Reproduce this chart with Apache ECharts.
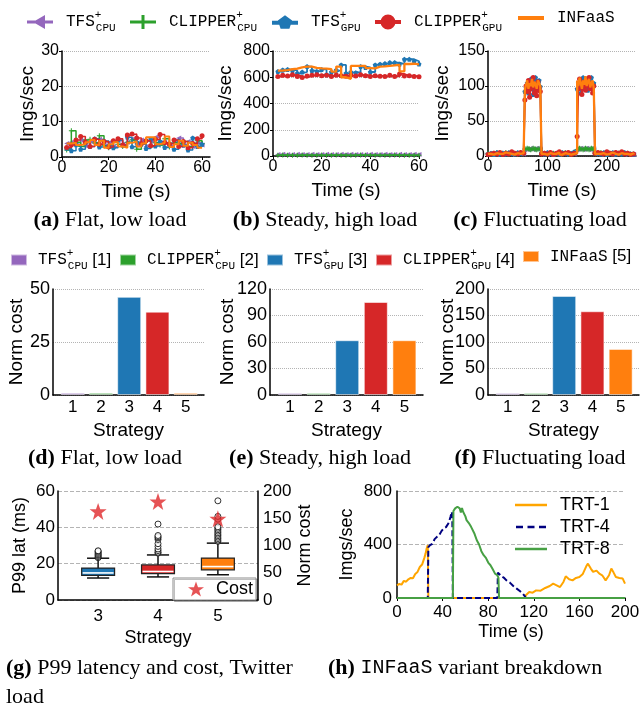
<!DOCTYPE html>
<html><head><meta charset="utf-8">
<script src="https://cdn.jsdelivr.net/npm/echarts@6/dist/echarts.min.js"></script>
<style>html,body{margin:0;padding:0;background:#fff}#c{width:642px;height:706px}</style>
</head><body><div id="c"></div>
<script>
// ---------------- DATA ----------------
const strategyNames = ['TFS_CPU', 'CLIPPER_CPU', 'TFS_GPU', 'CLIPPER_GPU', 'INFaaS'];
const costNames = ['TFS_CPU [1]', 'CLIPPER_CPU [2]', 'TFS_GPU [3]', 'CLIPPER_GPU [4]', 'INFaaS [5]'];
const strategyIds = [1, 2, 3, 4, 5];

// (a) flat, low load
const flatTime = [2,4,6,8,10,12,14,16,18,20,22,24,26,28,30,32,34,36,38,40,42,44,46,48,50,52,54,56,58,60];
const flatTFSCPU = [3.8,4.2,3.6,4.8,3.2,4.4,3.8,5.0,3.4,4.0,3.0,4.6,3.6,4.2,5.0,3.4,4.8,3.0,4.4,5.6,3.8,4.2,3.2,4.6,5.4,3.6,4.4,3.0,4.0,3.4];
const flatCLIPCPU = [2.0,7.4,4.2,3.0,4.8,5.0,4.0,6.0,3.2,2.6,4.4,3.6,3.0,4.2,4.8,2.2,3.8,4.6,3.0,4.0,3.4,5.2,2.8,4.0,3.6,4.4,3.0,3.8,4.6,3.8];
const flatTFSGPU = [2.5,1.8,3.5,2.2,4.0,3.0,5.2,2.8,4.5,3.2,2.6,4.8,3.4,5.6,2.9,4.2,3.6,2.4,5.0,3.1,4.4,2.7,3.8,2.2,4.6,3.3,2.0,5.4,3.0,3.6];
const flatCLIPGPU = [2.7,3.4,4.8,5.8,4.2,3.0,5.0,3.6,4.4,2.8,4.6,5.2,3.4,6.2,6.5,5.4,3.8,4.6,3.2,5.0,6.4,4.0,3.6,4.8,3.0,4.4,2.6,3.8,5.2,6.0];
const flatINFaaS = [3.8,4.0,3.4,3.6,4.2,4.8,3.4,4.6,2.6,3.6,4.2,3.0,2.6,4.0,4.4,3.0,3.8,5.6,5.6,3.6,4.0,5.8,2.8,3.6,4.6,3.2,4.0,3.4,2.6,2.4];

// (b) steady, high load
const steadyTime = [2,4,6,8,10,12,14,16,18,20,22,24,26,28,30,32,34,36,38,40,42,44,46,48,50,52,54,56,58,60];
const steadyTFSCPU = [12,13,11,12,14,12,11,13,12,12,13,11,12,14,12,13,12,11,12,13,12,12,14,12,11,13,12,12,13,12];
const steadyCLIPCPU = [6,7,6,5,6,7,6,6,5,7,6,6,7,6,5,6,6,7,6,6,5,7,6,6,7,6,6,5,6,6];
const steadyTFSGPU = [643,656,660,650,630,640,681,650,643,660,620,640,655,694,630,640,635,681,675,640,694,700,704,712,712,700,737,737,722,701];
const steadyCLIPGPU = [605,615,610,620,605,598,610,615,620,612,615,605,618,612,608,615,610,620,612,605,612,608,606,615,605,625,610,612,605,603];
const steadyINFaaS = [650,655,661,665,675,681,681,672,668,665,662,643,681,600,588,686,686,686,670,668,681,683,686,690,694,645,701,703,698,694];

// (c) fluctuating load
const fluctTime = [0,5,10,15,20,25,30,35,40,45,50,55,60,62,64,66,68,70,72,74,76,78,80,82,84,86,88,90,95,100,105,110,115,120,125,130,135,140,145,150,152,154,156,158,160,162,164,166,168,170,172,174,176,178,180,185,190,195,200,205,210,215,220,225,230,235,240,245];
const fluctTFSCPU = [3,4,3,2,4,3,3,4,2,3,4,3, 3,9,10,10,9,10,11,10,9,10,10,11,10,9,10,3, 3,2,4,3,3,2,4,3,3,4,3, 9,10,10,11,10,9,10,10,11,10,9,10,10,11,10,3, 3,2,3,4,3,2,3,3,4,2,3,3,2];
const fluctCLIPCPU = [4,3,4,5,3,4,5,3,4,4,3,5, 4,10,10,11,10,10,9,10,11,10,10,9,10,10,11,4, 4,3,5,4,3,4,3,5,4,3,4, 9,10,11,10,10,9,10,11,10,10,9,10,11,10,10,4, 4,5,3,4,4,3,5,4,3,4,4,3,3];
const fluctTFSGPU = [3,4,2,5,3,4,3,5,4,3,5,4, 5,92,98,104,90,96,110,100,88,106,112,95,102,108,99,4, 3,5,4,2,4,3,5,4,3,4,6, 96,104,100,90,108,112,98,102,110,94,100,106,112,96,104,5, 4,3,5,2,4,5,3,4,3,5,4,3,2];
const fluctCLIPGPU = [2,3,4,3,5,2,4,3,6,4,3,5, 4,80,100,92,108,84,96,104,112,90,100,86,106,98,92,3, 4,3,5,2,4,6,3,4,5,2,4, 28,96,110,104,88,100,106,94,108,100,112,96,104,90,100,4, 5,4,3,6,4,3,5,4,6,3,4,2,3];
const fluctINFaaS = [3,2,4,3,3,5,4,3,2,4,3,4, 3,95,102,108,96,104,100,110,98,106,102,96,108,104,100,3, 2,4,3,3,5,2,4,3,2,3,4, 108,100,112,104,96,108,102,114,100,106,110,98,104,108,96,3, 3,4,2,3,5,3,2,4,3,3,2,4,2];

// (d)(e)(f) normalized cost per strategy
const costFlat = [1.0, 1.0, 46.3, 39.3, 1.0];
const costSteady = [2.2, 2.2, 62, 105.3, 62];
const costFluct = [3.6, 3.6, 187, 158, 87];

// (g) P99 latency boxplots and cost, Twitter load
const twitterStrategies = [3, 4, 5];
const p99Low = [12.1, 12.7, 13.9];
const p99Q1 = [13.6, 14.5, 16.6];
const p99Median = [14.9, 15.7, 18.4];
const p99Q3 = [17.6, 19.3, 23.1];
const p99High = [23.0, 24.8, 31.3];
const p99Outliers3 = [23.3, 23.9, 24.5, 25.0, 25.6, 26.2, 26.8, 27.1];
const p99Outliers4 = [25.8, 26.3, 27.2, 28.1, 29.5, 31.0, 33.3, 34.2, 34.8, 35.5, 41.8];
const p99Outliers5 = [32.3, 33.0, 33.8, 34.6, 35.4, 36.2, 37.0, 37.9, 38.7, 39.5, 40.3, 44.5, 46.0, 54.6];
const twitterCost = [162.6, 180.7, 148.9];

// (h) INFaaS variant breakdown
const trtNames = ['TRT-1', 'TRT-4', 'TRT-8'];
const trt1Time = [0,2,4,6,8,10,12,14,16,18,20,22,24,25,26,27,27.5,60,112,113,116,119,122,126,130,134,137,140,143,146,148,151,154,157,160,163,166,167.5,170,172,175,177.5,180,183,186,188,190,192,195,198,200];
const trt1Vals = [95,105,100,128,122,140,150,148,180,195,232,250,300,330,370,395,0,0,0,20,45,40,57,55,75,90,107,95,82,120,162,140,132,150,157,180,237,257,220,195,205,182,170,132,170,220,190,157,150,145,107];
const trt4Time = [0,27,27.5,29,31,33,35,37,39,41,43,45,46,47,48,48.5,49,88,88.5,90,92,94,96,99,102,105,108,110,112,113,200];
const trt4Vals = [0,0,380,395,405,440,457,470,500,520,530,557,580,610,645,620,0,0,190,200,160,150,132,115,90,70,50,35,15,0,0];
const trt8Time = [0,49,49.5,51,53,55,56,57,58,60,61,63,65,66,68,70,72,74,76,78,80,82,84,86,88,89,89.5,200];
const trt8Vals = [0,0,650,670,682,670,640,672,645,610,582,560,532,540,480,432,400,350,320,300,265,245,215,182,170,150,0,0];

// ---------------- STYLE ----------------
const SANS = "'Liberation Sans', Arial, sans-serif";
const SERIF = "'Liberation Serif', 'Times New Roman', serif";
const MONO = "'Liberation Mono', 'Courier New', monospace";
const COLORS = ['#9467bd', '#2ca02c', '#1f77b4', '#d62728', '#ff7f0e'];
const STAR = 'path://M12,0L14.9,8.2H23.5L16.6,13.3L19.1,21.6L12,16.5L4.9,21.6L7.4,13.3L0.5,8.2H9.1Z';
const PLUS = 'path://M4,0H6V10H4Z M0,4H10V6H0Z';
const PENTA = 'path://M13,0.5L20.13,5.68L17.41,14.07L8.59,14.07L5.87,5.68Z';
const MARKERS = [
  {symbol: 'triangle', symbolRotate: 90, symbolSize: 5},
  {symbol: PLUS, symbolSize: 5},
  {symbol: PENTA, symbolSize: 5},
  {symbol: 'circle', symbolSize: 5},
  {symbol: 'none', symbolSize: 0}
];
const TOP_ICONS = [
  'path://M0,6.5H26V9.5H0Z M6,8L18,1L18,15Z',
  'path://M0,6.5H26V9.5H0Z M11.5,1H14.5V15H11.5Z',
  'path://M0,6H26V10H0Z M13,0.5L20.13,5.68L17.41,14.07L8.59,14.07L5.87,5.68Z',
  'path://M0,6H26V10H0Z M5.5,8A7.5,7.5 0 1,1 20.5,8A7.5,7.5 0 1,1 5.5,8Z',
  'path://M0,6H26V10H0Z'
];
const TOP_ICON_H = [14, 14, 15, 15, 4];
const TRT_ICONS = [
  'path://M0,0H32V2.5H0Z',
  'path://M0,0H7V2.5H0Z M11.5,0H18.5V2.5H11.5Z M23,0H30V2.5H23Z',
  'path://M0,0H32V2.5H0Z'
];
const LABEL_PARTS = {
  'TFS_CPU': ['TFS', 'CPU'], 'CLIPPER_CPU': ['CLIPPER', 'CPU'],
  'TFS_GPU': ['TFS', 'GPU'], 'CLIPPER_GPU': ['CLIPPER', 'GPU'], 'INFaaS': ['INFaaS', null]
};

function zip(t, v) { return t.map((x, i) => [x, v[i]]); }

function xAx(gi, min, max, ticks, name, o) {
  return {
    gridIndex: gi, type: 'value', min: min, max: max,
    name: name, nameLocation: 'middle', nameGap: o.nameGap, nameMoveOverlap: false,
    nameTextStyle: {fontFamily: o.font, fontSize: o.nameSize, color: '#000'},
    axisLine: {show: true, onZero: false, lineStyle: {color: '#000', width: 1.5}},
    axisTick: {show: o.tick !== false, length: 3, customValues: ticks, lineStyle: {color: '#000'}},
    axisLabel: {customValues: ticks, fontFamily: o.font, fontSize: o.labelSize, color: '#000', margin: o.margin},
    splitLine: {show: false}
  };
}
function yAx(gi, min, max, interval, name, o) {
  return {
    gridIndex: gi, type: 'value', min: min, max: max, interval: interval, position: o.position || 'left',
    name: name, nameLocation: 'middle', nameGap: o.nameGap, nameRotate: 90, nameMoveOverlap: false,
    nameTextStyle: {fontFamily: o.font, fontSize: o.nameSize, color: '#000'},
    axisLine: {show: true, lineStyle: {color: '#000', width: 1.5}},
    axisTick: {show: o.tick !== false, length: 3, lineStyle: {color: '#000'}},
    axisLabel: {fontFamily: o.font, fontSize: o.labelSize, color: '#000', margin: o.margin},
    splitLine: {show: o.split !== false, lineStyle: {type: o.dash || 'dotted', color: '#b4b4b4', width: 1}}
  };
}

const abc = {font: SANS, labelSize: 16, nameSize: 19, margin: 3};
const def = {font: SANS, labelSize: 17, nameSize: 19, margin: 4, tick: false};
const defY = {font: SANS, labelSize: 18, nameSize: 19, margin: 3, tick: false};
const gh = {font: SANS, labelSize: 17, nameSize: 18};

const xAxis = [
  xAx(0, 0, 63.4, [0, 20, 40, 60], 'Time (s)', Object.assign({}, abc, {nameGap: 25})),
  xAx(1, 0, 60, [0, 20, 40, 60], 'Time (s)', Object.assign({}, abc, {nameGap: 25})),
  xAx(2, 0, 249, [0, 100, 200], 'Time (s)', Object.assign({}, abc, {nameGap: 25})),
  xAx(3, 0.3, 5.65, strategyIds, 'Strategy', Object.assign({}, def, {nameGap: 26})),
  xAx(4, 0.3, 5.65, strategyIds, 'Strategy', Object.assign({}, def, {nameGap: 26})),
  xAx(5, 0.3, 5.65, strategyIds, 'Strategy', Object.assign({}, def, {nameGap: 26})),
  xAx(6, 2.33, 5.67, twitterStrategies, 'Strategy', Object.assign({}, gh, {nameGap: 29, margin: 8, tick: false})),
  xAx(7, 0, 200, [0, 40, 80, 120, 160, 200], 'Time (s)', Object.assign({}, gh, {nameGap: 25, margin: 6}))
];
const yAxis = [
  yAx(0, 0, 30, 10, 'Imgs/sec', Object.assign({}, abc, {nameGap: 25})),
  yAx(1, 0, 800, 200, 'Imgs/sec', Object.assign({}, abc, {nameGap: 38})),
  yAx(2, 0, 150, 50, 'Imgs/sec', Object.assign({}, abc, {nameGap: 36})),
  yAx(3, 0, 50, 25, 'Norm cost', Object.assign({}, defY, {nameGap: 27})),
  yAx(4, 0, 120, 30, 'Norm cost', Object.assign({}, defY, {nameGap: 33})),
  yAx(5, 0, 200, 50, 'Norm cost', Object.assign({}, defY, {nameGap: 31})),
  yAx(6, 0, 60, 20, 'P99 lat (ms)', Object.assign({}, gh, {nameGap: 29, margin: 3, dash: 'dashed', tick: false})),
  yAx(7, 0, 800, 400, 'Imgs/sec', Object.assign({}, gh, {nameGap: 41, margin: 5, dash: 'dashed', tick: false})),
  yAx(6, 0, 200, 50, 'Norm cost', Object.assign({}, gh, {nameGap: 38, margin: 5, position: 'right', split: false, tick: false}))
];

const series = [];
function addLines(ai, t, arrs, lw) {
  arrs.forEach((v, i) => {
    series.push({
      type: 'line', name: strategyNames[i], xAxisIndex: ai, yAxisIndex: ai,
      data: zip(t, v), step: 'end',
      symbol: MARKERS[i].symbol, symbolRotate: MARKERS[i].symbolRotate || 0, symbolSize: MARKERS[i].symbolSize,
      showSymbol: i !== 4,
      lineStyle: {color: COLORS[i], width: i === 4 ? lw + 0.5 : lw},
      itemStyle: {color: COLORS[i]},
      z: 2 + i
    });
  });
}
addLines(0, flatTime, [flatTFSCPU, flatCLIPCPU, flatTFSGPU, flatCLIPGPU, flatINFaaS], 1.5);
addLines(1, steadyTime, [steadyTFSCPU, steadyCLIPCPU, steadyTFSGPU, steadyCLIPGPU, steadyINFaaS], 1.8);
addLines(2, fluctTime, [fluctTFSCPU, fluctCLIPCPU, fluctTFSGPU, fluctCLIPGPU, fluctINFaaS], 1.8);

function addBars(ai, costs) {
  costs.forEach((v, i) => {
    series.push({
      type: 'bar', name: costNames[i], xAxisIndex: ai, yAxisIndex: ai,
      data: [[strategyIds[i], v]], barWidth: 24, barGap: '-100%',
      itemStyle: {color: COLORS[i], borderColor: 'rgba(255,255,255,0.55)', borderWidth: 1}
    });
  });
}
addBars(3, costFlat);
addBars(4, costSteady);
addBars(5, costFluct);

// (g) boxplots drawn through the axis scales
const boxData = twitterStrategies.map((s, i) => [s, p99Low[i], p99Q1[i], p99Median[i], p99Q3[i], p99High[i]]);
const boxColors = [COLORS[2], COLORS[3], COLORS[4]];
series.push({
  type: 'custom', name: 'P99', xAxisIndex: 6, yAxisIndex: 6, data: boxData,
  encode: {x: 0, y: [1, 2, 3, 4, 5]},
  renderItem: function (params, api) {
    const x = api.value(0);
    const pLo = api.coord([x, api.value(1)]), pQ1 = api.coord([x, api.value(2)]),
          pMed = api.coord([x, api.value(3)]), pQ3 = api.coord([x, api.value(4)]), pHi = api.coord([x, api.value(5)]);
    const hw = api.size([0.55, 0])[0] / 2, cw = api.size([0.37, 0])[0] / 2, cx = pQ1[0];
    const ln = {stroke: '#111', lineWidth: 1.5};
    return {type: 'group', children: [
      {type: 'line', shape: {x1: cx, y1: pLo[1], x2: cx, y2: pQ1[1]}, style: ln},
      {type: 'line', shape: {x1: cx, y1: pQ3[1], x2: cx, y2: pHi[1]}, style: ln},
      {type: 'line', shape: {x1: cx - cw, y1: pLo[1], x2: cx + cw, y2: pLo[1]}, style: ln},
      {type: 'line', shape: {x1: cx - cw, y1: pHi[1], x2: cx + cw, y2: pHi[1]}, style: ln},
      {type: 'rect', shape: {x: cx - hw, y: pQ3[1], width: 2 * hw, height: pQ1[1] - pQ3[1]},
        style: {fill: boxColors[params.dataIndex], stroke: '#222', lineWidth: 1.2}},
      {type: 'line', shape: {x1: cx - hw + 1, y1: pMed[1], x2: cx + hw - 1, y2: pMed[1]}, style: {stroke: '#fff', lineWidth: 1.6}}
    ]};
  },
  z: 3
});
const outlierPts = [].concat(
  p99Outliers3.map(v => [twitterStrategies[0], v]),
  p99Outliers4.map(v => [twitterStrategies[1], v]),
  p99Outliers5.map(v => [twitterStrategies[2], v])
);
series.push({
  type: 'scatter', name: 'outliers', xAxisIndex: 6, yAxisIndex: 6, data: outlierPts,
  symbol: 'circle', symbolSize: 6, itemStyle: {color: '#fff', borderColor: '#000', borderWidth: 1}, z: 4
});
series.push({
  type: 'scatter', name: 'Cost', xAxisIndex: 6, yAxisIndex: 8, data: zip(twitterStrategies, twitterCost),
  symbol: STAR, symbolSize: 17, itemStyle: {color: '#e0282b'}, z: 5
});

// (h)
const trtColors = ['#ffa500', '#000080', '#47a044'];
[[trt1Time, trt1Vals], [trt4Time, trt4Vals], [trt8Time, trt8Vals]].forEach((p, i) => {
  series.push({
    type: 'line', name: trtNames[i], xAxisIndex: 7, yAxisIndex: 7, data: zip(p[0], p[1]),
    symbol: 'none', showSymbol: false,
    lineStyle: {color: trtColors[i], width: 2, type: i === 1 ? [6, 3] : 'solid'},
    itemStyle: {color: trtColors[i]}, z: 3 + i
  });
});

// ---------------- LEGENDS ----------------
const legendRich = function (base) {
  return {
    m: {fontFamily: MONO, fontSize: 16, color: '#000', lineHeight: 24, padding: [0, 0, 0, base]},
    sup: {fontFamily: MONO, fontSize: 11, color: '#000', lineHeight: 3, width: 1, verticalAlign: 'top'},
    sub: {fontFamily: MONO, fontSize: 11, color: '#000', lineHeight: 16, verticalAlign: 'bottom'},
    n: {fontFamily: SANS, fontSize: 17, color: '#000', lineHeight: 24}
  };
};
function fmtLabel(name, suffix) {
  const p = LABEL_PARTS[name];
  let s = '{m|' + p[0] + '}';
  if (p[1]) s += '{sup|+}{sub|' + p[1] + '}';
  if (suffix) s += '{n| ' + suffix + '}';
  return s;
}
const legends = [];
const topLeft = [27, 130, 272, 375, 518];
strategyNames.forEach((n, i) => {
  legends.push({
    left: topLeft[i], top: 10, padding: 0, selectedMode: false,
    itemWidth: 26, itemHeight: TOP_ICON_H[i],
    data: [{name: n, icon: TOP_ICONS[i]}],
    formatter: name => fmtLabel(name),
    textStyle: {rich: legendRich(8)}
  });
});
const botLeft = [10, 119, 266, 375, 522];
costNames.forEach((n, i) => {
  legends.push({
    left: botLeft[i], top: 248, padding: 0, selectedMode: false,
    itemWidth: 16, itemHeight: 11, icon: 'rect',
    data: [n],
    formatter: name => {
      const parts = name.split(' ');
      return fmtLabel(parts[0], parts[1]);
    },
    textStyle: {rich: legendRich(6)}
  });
});
legends.push({
  left: 515, top: 496, orient: 'vertical', padding: 0, itemGap: 4, selectedMode: false,
  itemWidth: 32, itemHeight: 2.5,
  data: trtNames.map((n, i) => ({name: n, icon: TRT_ICONS[i]})),
  formatter: name => '{t|' + name + '}',
  textStyle: {rich: {t: {fontFamily: SANS, fontSize: 18, color: '#000', padding: [0, 0, 0, 8], lineHeight: 20}}}
});
legends.push({
  left: 173, top: 578, padding: [2, 3, 2, 15], selectedMode: false,
  borderColor: '#8c8c8c', borderWidth: 1, backgroundColor: '#fff',
  shadowColor: 'rgba(0,0,0,0.25)', shadowOffsetX: 1.5, shadowOffsetY: 1.5, shadowBlur: 0,
  itemWidth: 16, itemHeight: 16, data: [{name: 'Cost', icon: STAR}],
  formatter: name => '{t|' + name + '}',
  textStyle: {rich: {t: {fontFamily: SANS, fontSize: 18, color: '#000', padding: [0, 0, 0, 7], lineHeight: 20}}},
  z: 10
});

// ---------------- CAPTIONS ----------------
const capRich = {
  b: {fontFamily: SERIF, fontSize: 22, fontWeight: 'bold', color: '#000'},
  r: {fontFamily: SERIF, fontSize: 22, color: '#000'},
  t: {fontFamily: MONO, fontSize: 20, color: '#000'}
};
function cap(x, y, text, align) {
  return {type: 'text', x: x, y: y, style: {text: text, rich: capRich, align: align || 'center', verticalAlign: 'middle',
    textAlign: align || 'center', textVerticalAlign: 'middle'}};
}
const graphic = [
  cap(110, 220, '{b|(a)}{r| Flat, low load}'),
  cap(325, 220, '{b|(b)}{r| Steady, high load}'),
  cap(540, 220, '{b|(c)}{r| Fluctuating load}'),
  cap(105, 458, '{b|(d)}{r| Flat, low load}'),
  cap(320, 458, '{b|(e)}{r| Steady, high load}'),
  cap(540, 458, '{b|(f)}{r| Fluctuating load}'),
  cap(6, 668, '{b|(g)}{r| P99 latency and cost, Twitter}', 'left'),
  cap(6, 697, '{r|load}', 'left'),
  cap(328, 668, '{b|(h)}{r| }{t|INFaaS}{r| variant breakdown}', 'left')
];

const option = {
  animation: false,
  backgroundColor: '#fff',
  grid: [
    {left: 62, top: 51, width: 148, height: 106},
    {left: 273, top: 51, width: 146, height: 105},
    {left: 488, top: 51, width: 148, height: 105},
    {left: 53, top: 289, width: 151, height: 106},
    {left: 270, top: 289, width: 153, height: 106},
    {left: 488, top: 289, width: 151, height: 106},
    {left: 58, top: 491, width: 200, height: 109},
    {left: 397, top: 491, width: 228, height: 107}
  ].map(g => Object.assign(g, {containLabel: false, outerBoundsMode: 'none'})),
  legend: legends,
  xAxis: xAxis,
  yAxis: yAxis,
  series: series,
  graphic: graphic
};
const chart = echarts.init(document.getElementById('c'), null, {renderer: 'canvas'});
chart.setOption(option);
</script></body></html>
